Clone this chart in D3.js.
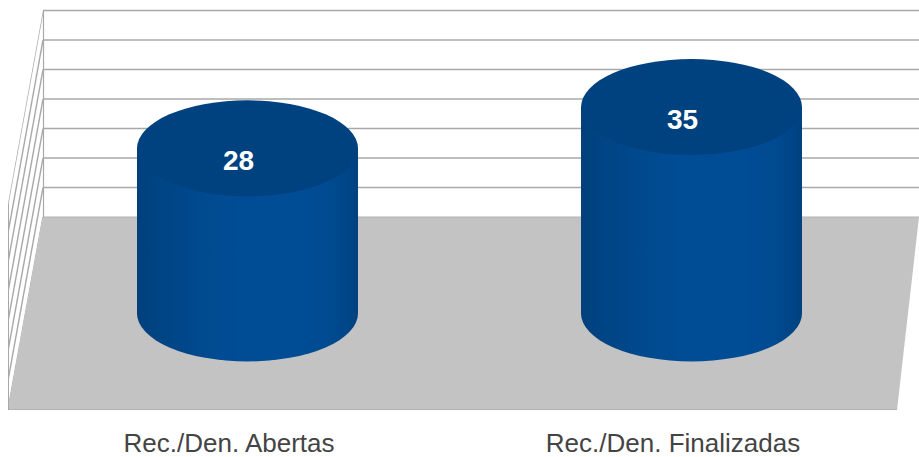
<!DOCTYPE html>
<html><head><meta charset="utf-8">
<script src="https://cdn.jsdelivr.net/npm/d3@7"></script>
<style>html,body{margin:0;padding:0;background:#fff;overflow:hidden}svg{display:block}</style>
</head><body><svg id="c" width="919" height="457"></svg>
<script>
const categories = ["Rec./Den. Abertas", "Rec./Den. Finalizadas"];
const values = [28, 35];
const ticks = [0, 5, 10, 15, 20, 25, 30, 35];
const sideStops = [[0,"#003f7a"],[0.04,"#004280"],[0.12,"#004585"],[0.28,"#00498e"],[0.48,"#004d96"],[0.72,"#004d96"],[0.88,"#004a90"],[0.96,"#004586"],[1,"#004180"]];

const svg = d3.select("#c");
const W = 919;
const y = d3.scaleLinear().domain([0, 35]).range([217, 10.5]);
const x = d3.scalePoint().domain(categories).range([247.5, 691.5]);
const depthX = -35, depthY = 193;
const rx = 110.5, ry = 48, baseCy = 313.5;
const h = d3.scaleLinear().domain([0, 35]).range([0, 206.5]);

const defs = svg.append("defs");
const grad = defs.append("linearGradient").attr("id", "side");
grad.selectAll("stop").data(sideStops).join("stop")
  .attr("offset", d => d[0]).attr("stop-color", d => d[1]);
defs.append("clipPath").attr("id", "wall").append("polygon")
  .attr("points", `8,${y(35)+depthY} 43,${y(35)} 43,217 8,410`);

// floor
svg.append("polygon").attr("points", "43,217 919,217 897,410 8,410").attr("fill", "#c3c3c3");
svg.append("line").attr("x1", 8).attr("x2", 897).attr("y1", 409.5).attr("y2", 409.5).attr("stroke", "#b3b3b3").attr("stroke-width", 1);
svg.append("line").attr("x1", 43).attr("x2", 919).attr("y1", 217).attr("y2", 217).attr("stroke", "#b3b3b3").attr("stroke-width", 1);

// back wall gridlines
svg.append("g").selectAll("line").data(ticks.slice(1)).join("line")
  .attr("x1", 43).attr("x2", W).attr("y1", d => y(d)).attr("y2", d => y(d))
  .attr("stroke", "#a8a8a8").attr("stroke-width", 1.5);
svg.append("line").attr("x1", 43.5).attr("x2", 43.5).attr("y1", y(35)).attr("y2", 217).attr("stroke", "#a8a8a8").attr("stroke-width", 1.2);

// side wall gridlines
svg.append("g").attr("clip-path", "url(#wall)").selectAll("line").data(ticks).join("line")
  .attr("x1", 43).attr("y1", d => y(d)).attr("x2", 43 + depthX).attr("y2", d => y(d) + depthY)
  .attr("stroke", "#a8a8a8").attr("stroke-width", 1.4);
svg.append("line").attr("x1", 8.5).attr("x2", 8.5).attr("y1", y(35) + depthY).attr("y2", 410).attr("stroke", "#a8a8a8").attr("stroke-width", 1);

// cylinders
const bars = svg.append("g").selectAll("g").data(categories.map((c, i) => ({c, v: values[i]}))).join("g");
bars.append("path").attr("fill", "url(#side)").attr("d", d => {
  const cx = x(d.c), top = baseCy - h(d.v);
  return `M${cx - rx},${top}V${baseCy}A${rx},${ry} 0 0 0 ${cx + rx},${baseCy}V${top}Z`;
});
bars.append("ellipse").attr("fill", "#00427f")
  .attr("cx", d => x(d.c)).attr("cy", d => baseCy - h(d.v)).attr("rx", rx).attr("ry", ry);
bars.append("text").text(d => d.v)
  .attr("x", d => x(d.c) - 9).attr("y", d => baseCy - h(d.v) + 21.5)
  .attr("text-anchor", "middle").attr("fill", "#fff")
  .attr("font-family", "Liberation Sans").attr("font-weight", "bold").attr("font-size", 28);

// category labels
svg.append("g").selectAll("text").data(categories).join("text").text(d => d)
  .attr("x", d => x(d) - 18.5).attr("y", 452)
  .attr("text-anchor", "middle").attr("fill", "#444")
  .attr("font-family", "Liberation Sans").attr("font-size", 26);
</script></body></html>
